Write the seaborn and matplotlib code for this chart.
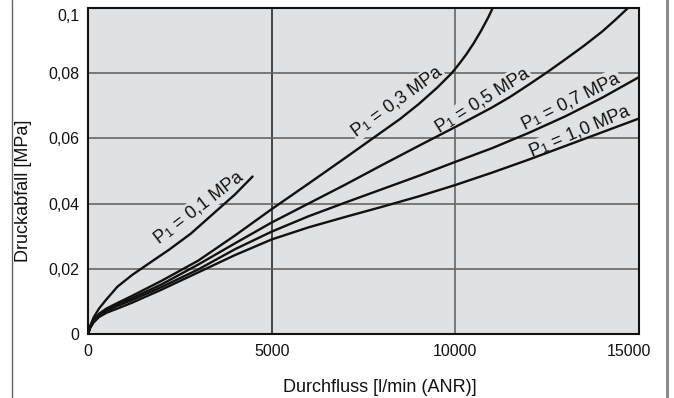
import numpy as np
import pandas as pd
import matplotlib
matplotlib.use("Agg")
import matplotlib.pyplot as plt
import matplotlib.transforms as mtransforms
import seaborn as sns
from matplotlib.lines import Line2D

# ---- data ----
x_p01 = [0, 60, 150, 300, 500, 800, 1200, 1600, 2200, 2800, 3400, 4000, 4480]
y_p01 = [0, 0.0025, 0.005, 0.0078, 0.0106, 0.0145, 0.0181, 0.0212, 0.0258, 0.0308, 0.0368, 0.0428, 0.0483]

x_p03 = [0, 60, 150, 300, 500, 800, 1200, 2000, 3000, 4000, 5000, 6000, 7000, 8000, 8500, 9000, 9500,
         9900, 10100, 10300, 10500, 10700, 10900, 11050]
y_p03 = [0, 0.0022, 0.0042, 0.0062, 0.0078, 0.0095, 0.0117, 0.0163, 0.0225, 0.0302, 0.0383, 0.0461, 0.0540,
         0.0620, 0.0660, 0.0705, 0.0755, 0.0800, 0.0828, 0.0858, 0.0892, 0.0930, 0.0972, 0.1008]

x_p05 = [0, 60, 150, 300, 500, 800, 1200, 2000, 3000, 4000, 5000, 6000, 7000, 8000, 9000, 10000, 11000,
         11500, 12000, 12500, 13000, 13500, 14000, 14350, 14700]
y_p05 = [0, 0.0021, 0.004, 0.0059, 0.0074, 0.009, 0.011, 0.0152, 0.0213, 0.0278, 0.0342, 0.0400, 0.0458,
         0.0518, 0.0577, 0.0635, 0.0695, 0.0728, 0.0765, 0.0803, 0.0843, 0.0884, 0.0928, 0.0963, 0.1]

x_p07 = [0, 60, 150, 300, 500, 800, 1200, 2000, 3000, 4000, 5000, 6000, 7000, 8000, 9000, 10000, 11000,
         12000, 13000, 14000, 15000]
y_p07 = [0, 0.002, 0.0038, 0.0056, 0.0071, 0.0086, 0.0104, 0.0144, 0.0198, 0.0260, 0.0314, 0.0361, 0.0403,
         0.0444, 0.0485, 0.0528, 0.0570, 0.0617, 0.0668, 0.0725, 0.0788]

x_p10 = [0, 60, 150, 300, 500, 800, 1200, 2000, 3000, 4000, 5000, 6000, 7000, 8000, 9000, 10000, 11000,
         12000, 13000, 14000, 15000]
y_p10 = [0, 0.0019, 0.0035, 0.0052, 0.0065, 0.0078, 0.0096, 0.0136, 0.0189, 0.0242, 0.0290, 0.0327, 0.0359,
         0.0390, 0.0422, 0.0457, 0.0495, 0.0535, 0.0577, 0.0619, 0.0661]

series_names = ["0,1", "0,3", "0,5", "0,7", "1,0"]
label_texts = [r"P$_1$ = 0,1 MPa", r"P$_1$ = 0,3 MPa", r"P$_1$ = 0,5 MPa",
               r"P$_1$ = 0,7 MPa", r"P$_1$ = 1,0 MPa"]
label_x = [3005, 8410, 10730, 13130, 13380]
label_y = [0.0389, 0.0713, 0.0718, 0.0715, 0.0622]
label_rot = [37.5, 36, 32, 26.5, 23]

x_ticks = [0, 5000, 10000, 15000]
x_ticklabels = ["0", "5000", "10000", "15000"]
y_ticks = [0, 0.02, 0.04, 0.06, 0.08, 0.1]
y_ticklabels = ["0", "0,02", "0,04", "0,06", "0,08", "0,1"]

# ---- build long table ----
frames = []
for name, xs, ys in zip(series_names,
                        [x_p01, x_p03, x_p05, x_p07, x_p10],
                        [y_p01, y_p03, y_p05, y_p07, y_p10]):
    frames.append(pd.DataFrame({"flow": xs, "dp": ys, "p1": name}))
df = pd.concat(frames, ignore_index=True)

# ---- style ----
sns.set_theme(style="white")
plt.rcParams["font.family"] = ["Liberation Sans", "DejaVu Sans"]
plt.rcParams["mathtext.fontset"] = "custom"
plt.rcParams["mathtext.rm"] = "Liberation Sans"
plt.rcParams["mathtext.it"] = "Liberation Sans:italic"
plt.rcParams["mathtext.bf"] = "Liberation Sans:bold"
plt.rcParams["mathtext.default"] = "regular"

# make the subscript drop shallower (as in the reference)
try:
    import matplotlib._mathtext as _mt
    _mt.FontConstantsBase.sub1 = 0.12
    _mt.FontConstantsBase.sub2 = 0.2
except Exception:
    pass

BG = "#e0e1e3"
INK = "#111111"
fig = plt.figure(figsize=(6.74, 3.98), dpi=100)
ax = fig.add_axes([88 / 674, 1 - 334 / 398, (639 - 88) / 674, (334 - 8) / 398])
ax.set_facecolor(BG)

sns.lineplot(data=df, x="flow", y="dp", hue="p1", palette=[INK] * 5,
             linewidth=1.7, legend=False, ax=ax, zorder=3, sort=False)

ax.set_xlim(0, 15000)
ax.set_ylim(0, 0.1)
ax.set_xticks(x_ticks)
ax.set_xticklabels(x_ticklabels)
ax.set_yticks(y_ticks)
ax.set_yticklabels(y_ticklabels)
ax.tick_params(axis="both", length=0, labelsize=11.5, colors=INK)
ax.tick_params(axis="y", pad=6)
ax.tick_params(axis="x", pad=7)

# small offsets of end tick labels as in the reference
xl = ax.get_xticklabels()
xl[-1].set_transform(xl[-1].get_transform() +
                     mtransforms.ScaledTranslation(-10 / 100, 0, fig.dpi_scale_trans))
yl = ax.get_yticklabels()
yl[-1].set_transform(yl[-1].get_transform() +
                     mtransforms.ScaledTranslation(0, -7 / 100, fig.dpi_scale_trans))

ax.grid(True, color="#666666", linewidth=1.2, zorder=1)
ax.set_axisbelow(True)
xg = ax.get_xgridlines()
if len(xg) > 1:
    xg[1].set_color("#2a2a2a")

for s in ax.spines.values():
    s.set_color(INK)
    s.set_linewidth(1.5)
    s.set_zorder(5)

ax.set_xlabel("Durchfluss [l/min (ANR)]", fontsize=13, color=INK)
ax.set_ylabel("Druckabfall [MPa]", fontsize=13, color=INK)
ax.xaxis.set_label_coords(0.53, -0.138)
ax.yaxis.set_label_coords(-0.1016, 0.44)

for t, lx, ly, r in zip(label_texts, label_x, label_y, label_rot):
    ax.text(lx, ly, t, rotation=r, rotation_mode="anchor", ha="center", va="center",
            fontsize=13, color=INK, zorder=2.5,
            bbox=dict(facecolor=BG, edgecolor="none", pad=0.5))

# panel border lines of the source page
fig.add_artist(Line2D([11.5 / 674, 11.5 / 674], [0, 1], color="#666666", linewidth=1.0))
fig.add_artist(Line2D([666.5 / 674, 666.5 / 674], [0, 1], color="#8c8c8c", linewidth=2.2))

fig.savefig("out.png", dpi=100, facecolor="white")
